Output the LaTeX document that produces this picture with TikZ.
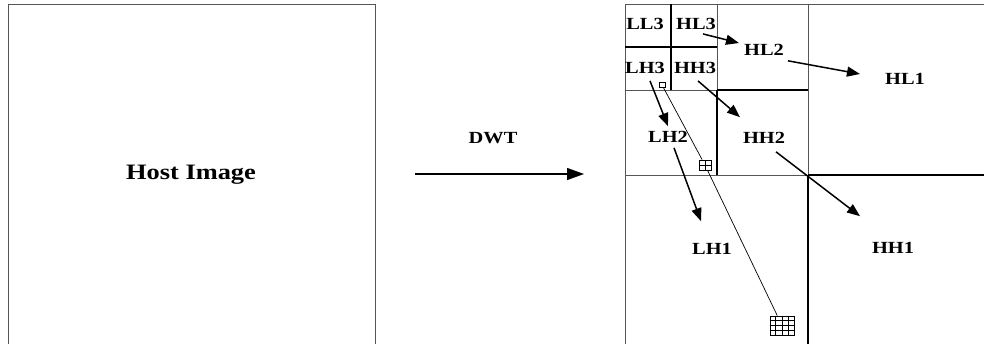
\documentclass[tikz,border=0pt]{standalone}
\usepackage{fontspec}
\setmainfont{Liberation Serif}[FakeStretch=1.2]
\usepackage{tikz}
\usetikzlibrary{arrows.meta,calc}
\definecolor{framegray}{RGB}{85,85,85}
\tikzset{
  band/.style={font=\bfseries\fontsize{17}{20}\selectfont, inner sep=1pt},
  title/.style={font=\bfseries\fontsize{22}{26}\selectfont, inner sep=1pt},
  frame/.style={draw=framegray, line width=1pt},
  split/.style={draw=black, line width=1.7pt},
  flow/.style={-{Triangle[length=13pt,width=10pt]}, line width=1.5pt},
  dwtflow/.style={-{Triangle[length=17pt,width=12pt]}, line width=1.3pt},
  block/.style={draw=black, line width=0.8pt, inner sep=0pt},
  trace/.style={draw=black, line width=0.7pt},
}

\begin{document}
\begin{tikzpicture}[x=1pt,y=-1pt]
                \clip (0,0) rectangle (984,343);
                % host image
                \draw[frame] (8,4) rectangle (375,380);
                \node[title] (host) at (191,175) {Host Image};
                \coordinate (dwtin) at (415,174);
                \coordinate (dwtout) at (584,174);
                \draw[dwtflow] (dwtin) -- (dwtout);
                \node[band] (dwt) at (493,138) {DWT};
                % decomposed image
                \draw[frame] (625,4) rectangle (1000,400);
                \draw[frame] (808,4) -- (808,175) (625,175) -- (808,175);
                \draw[frame] (717,4) -- (717,90) (625,90) -- (717,90);
                \draw[split] (808,175) -- (808,400) (808,175) -- (1000,175);
                \draw[split] (717,90) -- (717,175) (717,90) -- (808,90);
                \draw[split] (671,4) -- (671,90) (625,47) -- (717,47);
                % sub-bands
                \node[band] (LL3) at (645,24) {LL3};
                \node[band] (HL3) at (696,24) {HL3};
                \node[band] (LH3) at (645,68) {LH3};
                \node[band] (HH3) at (695,68) {HH3};
                \node[band] (HL2) at (764,50) {HL2};
                \node[band] (LH2) at (668,137) {LH2};
                \node[band] (HH2) at (764,138) {HH2};
                \node[band] (HL1) at (905,79) {HL1};
                \node[band] (LH1) at (712,249) {LH1};
                \node[band] (HH1) at (893,248) {HH1};
                \draw[flow] ($(HL3.south)+(7,3)$) -- ($(HL2.west)+(-4,-7)$);
                \draw[flow] ($(HL2.south east)+(3,4)$) -- ($(HL1.west)+(-24,-5)$);
                \draw[flow] ($(HH3.south)+(3,6)$) -- ($(HH2.north)+(-24,-14)$);
                \draw[flow] ($(LH3.south)+(5,6)$) -- ($(LH2.north)+(0,-4)$);
                \draw[flow] ($(LH2.south)+(6,4)$) -- ($(LH1.north)+(-11,-21)$);
                \draw[flow] ($(HH2.south)+(12,7)$) -- ($(HH1.north)+(-33,-25)$);
                % coefficient blocks
                \node[block, minimum width=6pt, minimum height=5pt] (blk1) at (662,85) {};
                \node[block, minimum width=12pt, minimum height=10pt] (blk2) at (705,165) {};
                \node[block, minimum width=24pt, minimum height=19pt] (blk4) at (782,325.5) {};
                \draw[block] (blk2.north) -- (blk2.south) (blk2.west) -- (blk2.east);
                \foreach \i in {1,2,3} {
                    \draw[block] ($(blk4.north west)!\i/4!(blk4.north east)$) -- ($(blk4.south west)!\i/4!(blk4.south east)$);
                    \draw[block] ($(blk4.north west)!\i/4!(blk4.south west)$) -- ($(blk4.north east)!\i/4!(blk4.south east)$);
                }
                \draw[trace] (blk1) -- (blk2) -- (blk4);
            \end{tikzpicture}
\end{document}
